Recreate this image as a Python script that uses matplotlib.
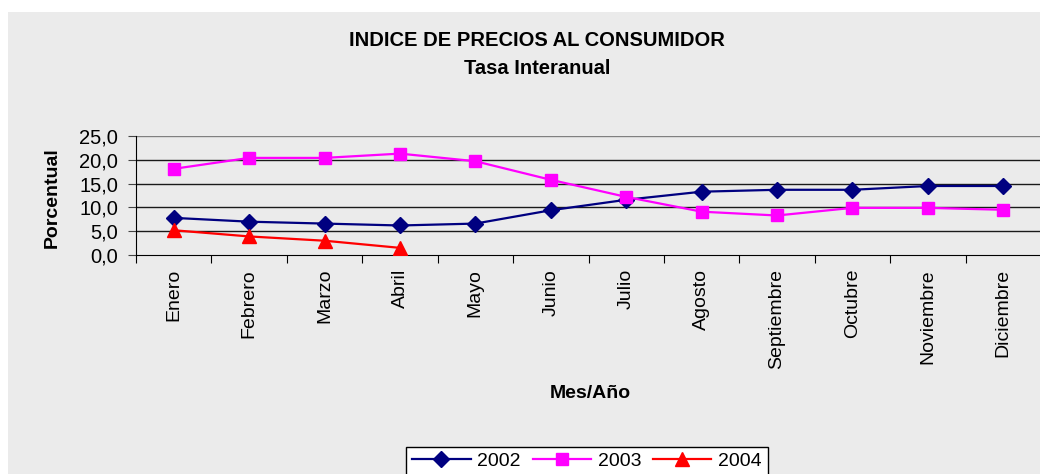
import matplotlib.pyplot as plt
from matplotlib.patches import Rectangle
from matplotlib.ticker import FuncFormatter, MultipleLocator

plt.rcParams['font.family'] = ['Liberation Sans', 'DejaVu Sans']

# Monthly year-on-year CPI rate (%)
meses = ['Enero', 'Febrero', 'Marzo', 'Abril', 'Mayo', 'Junio', 'Julio',
         'Agosto', 'Septiembre', 'Octubre', 'Noviembre', 'Diciembre']
tasa_2002 = [7.8, 7.0, 6.6, 6.2, 6.6, 9.4, 11.6, 13.3, 13.7, 13.7, 14.5, 14.5]
tasa_2003 = [18.1, 20.4, 20.4, 21.3, 19.7, 15.8, 12.2, 9.1, 8.3, 9.9, 9.9, 9.5]
tasa_2004 = [5.2, 3.9, 3.0, 1.5]

W, H = 1040, 474
fig = plt.figure(figsize=(W / 100, H / 100), dpi=100)
fig.patch.set_facecolor('white')

# textured-looking background panel (flat light gray)
fig.patches.append(Rectangle((8 / W, 0), 1 - 8 / W, 1 - 12 / H, transform=fig.transFigure,
                             facecolor='#ebebeb', edgecolor='none', zorder=-5))

ax = fig.add_axes([136 / W, 1 - 255 / H, 905 / W, 119 / H])
ax.set_zorder(2)
ax.patch.set_alpha(0)

x = list(range(len(meses)))
ax.plot(x, tasa_2002, color='#000080', lw=1.6, marker='D', ms=8, label='2002', zorder=3)
ax.plot(x, tasa_2003, color='#FF00FF', lw=1.6, marker='s', ms=8.5, label='2003', zorder=3)
ax.plot(x[:len(tasa_2004)], tasa_2004, color='#FF0000', lw=1.6, marker='^', ms=9.5, label='2004', zorder=3)

ax.set_xlim(-0.5, len(meses) - 0.5)
ax.set_ylim(0, 25)
ax.yaxis.set_major_locator(MultipleLocator(5))
ax.yaxis.set_major_formatter(FuncFormatter(lambda v, p: f'{v:.1f}'.replace('.', ',')))

# gridlines
for yv in [5, 10, 15, 20]:
    ax.axhline(yv, color='#1a1a1a', lw=1, zorder=1)
ax.axhline(25, color='#808080', lw=1, zorder=1)

for s in ['top', 'right']:
    ax.spines[s].set_visible(False)
ax.spines['left'].set_color('black')
ax.spines['bottom'].set_color('black')

# category boundary ticks on x axis, labels at category centres
ax.set_xticks([i - 0.5 for i in range(len(meses) + 1)])
ax.set_xticklabels([])
ax.set_xticks(x, minor=True)
ax.set_xticklabels(meses, minor=True, rotation=90, fontsize=14)
ax.tick_params(axis='x', which='major', direction='out', length=6, color='black')
ax.tick_params(axis='x', which='minor', length=0, pad=10)
ax.tick_params(axis='y', direction='out', length=6, pad=7, labelsize=14.5, color='#444444')

fig.text(537 / W, 1 - 40 / H, 'INDICE DE PRECIOS AL CONSUMIDOR', ha='center', va='center',
         fontsize=14.5, fontweight='bold')
fig.text(537 / W, 1 - 68 / H, 'Tasa Interanual', ha='center', va='center',
         fontsize=14.5, fontweight='bold')
fig.text(52 / W, 1 - 198 / H, 'Porcentual', rotation=90, ha='center', va='center',
         fontsize=14, fontweight='bold')
fig.text(590 / W, 1 - 393 / H, 'Mes/Año', ha='center', va='center',
         fontsize=14, fontweight='bold')

leg = fig.legend(loc='upper center', bbox_to_anchor=(587 / W, 1 - 437 / H), ncol=3,
                 fontsize=14, frameon=True, fancybox=False, borderpad=0.3,
                 handlelength=3.0, columnspacing=0.6, handletextpad=0.35)
leg.get_frame().set_edgecolor('black')
leg.get_frame().set_facecolor('white')
leg.get_frame().set_alpha(1)

fig.savefig('out.png', dpi=100)
